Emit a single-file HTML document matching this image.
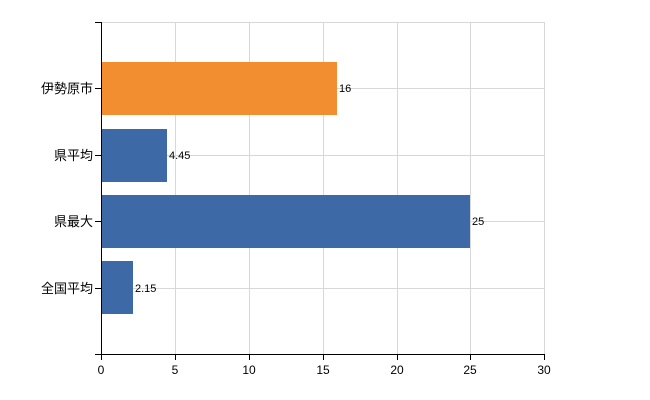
<!DOCTYPE html>
<html><head><meta charset="utf-8"><style>body{margin:0;background:#fff}svg{display:block}text{font-family:"Liberation Sans","Noto Sans CJK JP",sans-serif}</style></head><body>
<svg width="650" height="400" xmlns="http://www.w3.org/2000/svg">
<g stroke="#d8d8d8" stroke-width="1">
<line x1="101" y1="22.5" x2="544" y2="22.5"/>
<line x1="101" y1="88.5" x2="544" y2="88.5"/>
<line x1="101" y1="155.5" x2="544" y2="155.5"/>
<line x1="101" y1="221.5" x2="544" y2="221.5"/>
<line x1="101" y1="288.5" x2="544" y2="288.5"/>
<line x1="175.5" y1="22" x2="175.5" y2="354"/>
<line x1="249.5" y1="22" x2="249.5" y2="354"/>
<line x1="323.5" y1="22" x2="323.5" y2="354"/>
<line x1="397.5" y1="22" x2="397.5" y2="354"/>
<line x1="470.5" y1="22" x2="470.5" y2="354"/>
<line x1="544.5" y1="22" x2="544.5" y2="354"/>
</g>
<rect x="101" y="62" width="236" height="53" fill="#f28e2f"/>
<rect x="101" y="129" width="66" height="53" fill="#3d6aa6"/>
<rect x="101" y="195" width="369" height="53" fill="#3d6aa6"/>
<rect x="101" y="261" width="32" height="53" fill="#3d6aa6"/>
<g font-size="11" fill="#000">
<text x="339" y="92">16</text>
<text x="169" y="159">4.45</text>
<text x="472" y="225">25</text>
<text x="135" y="292">2.15</text>
</g>
<g stroke="#000" stroke-width="1">
<line x1="101.5" y1="22" x2="101.5" y2="354"/>
<line x1="95" y1="22.5" x2="101" y2="22.5"/>
<line x1="95" y1="88.5" x2="101" y2="88.5"/>
<line x1="95" y1="155.5" x2="101" y2="155.5"/>
<line x1="95" y1="221.5" x2="101" y2="221.5"/>
<line x1="95" y1="288.5" x2="101" y2="288.5"/>
<line x1="95" y1="354.5" x2="544" y2="354.5"/>
<line x1="101.5" y1="354" x2="101.5" y2="360"/>
<line x1="175.5" y1="354" x2="175.5" y2="360"/>
<line x1="249.5" y1="354" x2="249.5" y2="360"/>
<line x1="323.5" y1="354" x2="323.5" y2="360"/>
<line x1="397.5" y1="354" x2="397.5" y2="360"/>
<line x1="470.5" y1="354" x2="470.5" y2="360"/>
<line x1="544.5" y1="354" x2="544.5" y2="360"/>
</g>
<g font-size="13" fill="#000" text-anchor="end">
<text x="93" y="93">伊勢原市</text>
<text x="93" y="160">県平均</text>
<text x="93" y="226">県最大</text>
<text x="93" y="293">全国平均</text>
</g>
<g font-size="12" fill="#000" text-anchor="middle">
<text x="101" y="374">0</text><text x="175" y="374">5</text><text x="249" y="374">10</text>
<text x="323" y="374">15</text><text x="397" y="374">20</text><text x="470" y="374">25</text><text x="544" y="374">30</text>
</g>
</svg>
</body></html>
